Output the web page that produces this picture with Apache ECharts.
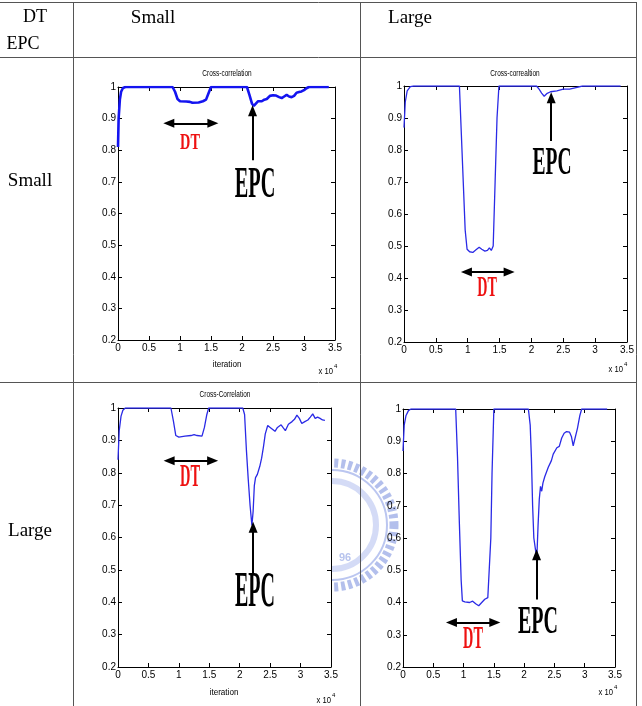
<!DOCTYPE html>
<html>
<head>
<meta charset="utf-8">
<script src="https://cdn.jsdelivr.net/npm/echarts@6/dist/echarts.min.js"></script>
<style>
html, body { margin: 0; padding: 0; background: #fff; }
#main { width: 642px; height: 706px; }
</style>
</head>
<body>
<div id="main"></div>
<script>
// iteration (x 10^4) against cross-correlation, one list per table cell
var xTicks = [0, 0.5, 1, 1.5, 2, 2.5, 3, 3.5];
var yTicks = [0.2, 0.3, 0.4, 0.5, 0.6, 0.7, 0.8, 0.9, 1];

// DT small / EPC small
var dtSmallEpcSmall = [[0,0.81],[0.01,0.9],[0.03,0.96],[0.05,0.985],[0.08,0.997],[0.12,1],[0.88,1],[0.92,0.985],
  [0.96,0.962],[1.0,0.955],[1.1,0.954],[1.16,0.953],[1.2,0.95],[1.3,0.951],[1.37,0.955],[1.42,0.96],[1.46,0.98],
  [1.5,1],[2.08,1],[2.12,0.975],[2.16,0.948],[2.19,0.94],[2.22,0.945],[2.26,0.955],[2.32,0.955],[2.36,0.96],
  [2.4,0.962],[2.45,0.972],[2.5,0.974],[2.55,0.973],[2.6,0.968],[2.64,0.965],[2.68,0.97],[2.72,0.975],[2.76,0.97],
  [2.8,0.968],[2.84,0.972],[2.88,0.982],[2.92,0.984],[2.96,0.986],[3.0,0.99],[3.04,0.996],[3.08,1],[3.4,1]];

// DT large / EPC small
var dtLargeEpcSmall = [[0,0.87],[0.02,0.95],[0.05,0.985],[0.1,0.998],[0.15,1],[0.87,1],[0.9,0.85],[0.93,0.7],
  [0.96,0.55],[0.99,0.49],[1.03,0.482],[1.08,0.48],[1.13,0.488],[1.18,0.496],[1.22,0.49],[1.27,0.484],[1.31,0.486],
  [1.34,0.494],[1.37,0.486],[1.4,0.5],[1.43,0.7],[1.46,0.9],[1.49,1],[2.08,1],[2.12,0.99],[2.16,0.978],[2.2,0.968],
  [2.24,0.976],[2.3,0.982],[2.4,0.985],[2.5,0.99],[2.6,0.99],[2.7,0.995],[2.8,1],[3.4,1]];

// DT small / EPC large
var dtSmallEpcLarge = [[0,0.84],[0.02,0.93],[0.05,0.975],[0.08,0.993],[0.12,1],[0.87,1],[0.91,0.96],[0.95,0.915],
  [1.0,0.91],[1.1,0.913],[1.2,0.915],[1.25,0.918],[1.3,0.915],[1.38,0.913],[1.42,0.94],[1.46,0.98],[1.49,1],[2.05,1],
  [2.08,0.98],[2.11,0.87],[2.14,0.78],[2.17,0.7],[2.2,0.637],[2.22,0.68],[2.24,0.76],[2.26,0.785],[2.29,0.795],
  [2.33,0.82],[2.36,0.845],[2.39,0.88],[2.42,0.92],[2.46,0.946],[2.5,0.94],[2.53,0.936],[2.58,0.928],[2.62,0.94],
  [2.68,0.948],[2.71,0.94],[2.75,0.93],[2.8,0.95],[2.86,0.958],[2.9,0.965],[2.94,0.978],[2.98,0.968],[3.02,0.952],
  [3.07,0.958],[3.12,0.963],[3.16,0.972],[3.2,0.982],[3.24,0.968],[3.28,0.972],[3.32,0.968],[3.36,0.963],[3.4,0.962]];

// DT large / EPC large
var dtLargeEpcLarge = [[0,0.87],[0.02,0.95],[0.05,0.98],[0.09,0.995],[0.13,1],[0.87,1],[0.9,0.85],[0.93,0.65],
  [0.96,0.47],[0.98,0.405],[1.02,0.402],[1.05,0.406],[1.1,0.4],[1.15,0.404],[1.2,0.396],[1.25,0.39],[1.3,0.4],
  [1.35,0.41],[1.4,0.415],[1.43,0.418],[1.45,0.6],[1.47,0.8],[1.5,1],[2.07,1],[2.1,0.95],[2.12,0.85],[2.14,0.7],
  [2.16,0.6],[2.19,0.56],[2.21,0.54],[2.23,0.64],[2.25,0.72],[2.27,0.76],[2.29,0.745],[2.31,0.77],[2.34,0.79],
  [2.4,0.82],[2.45,0.84],[2.48,0.86],[2.54,0.88],[2.58,0.884],[2.62,0.91],[2.66,0.925],[2.7,0.93],[2.75,0.928],
  [2.78,0.915],[2.81,0.886],[2.84,0.89],[2.88,0.94],[2.92,0.98],[2.95,1],[3.37,1]];

var chart = echarts.init(document.getElementById('main'));

var grids = [
  { left: 118, top: 87, width: 217, height: 253 },
  { left: 404, top: 86, width: 223, height: 256 },
  { left: 118, top: 408, width: 213, height: 259 },
  { left: 403, top: 409, width: 212, height: 258 }
];
grids.forEach(function (g) {
  g.show = true; g.backgroundColor = '#fff'; g.borderWidth = 0;
});

var tickFont = "'Liberation Sans Narrow', 'Liberation Sans', Arial, sans-serif";
var lineBlack = { color: '#000', width: 1 };

var xAxes = [], yAxes = [];
grids.forEach(function (g, i) {
  ['bottom', 'top'].forEach(function (pos) {
    xAxes.push({
      type: 'value', gridIndex: i, position: pos,
      min: xTicks[0], max: xTicks[xTicks.length - 1],
      axisLine: { onZero: false, lineStyle: lineBlack },
      axisTick: { inside: true, length: 4, lineStyle: lineBlack, customValues: xTicks },
      axisLabel: { show: pos === 'bottom', customValues: xTicks, color: '#000', fontSize: 10, margin: 3, fontFamily: tickFont },
      splitLine: { show: false }
    });
  });
  ['left', 'right'].forEach(function (pos) {
    yAxes.push({
      type: 'value', gridIndex: i, position: pos,
      min: yTicks[0], max: yTicks[yTicks.length - 1],
      axisLine: { onZero: false, lineStyle: lineBlack },
      axisTick: { inside: true, length: 4, lineStyle: lineBlack, customValues: yTicks },
      axisLabel: { show: pos === 'left', customValues: yTicks, color: '#000', fontSize: 10, margin: 2, fontFamily: tickFont },
      splitLine: { show: false }
    });
  });
});

// arrows for the DT span and EPC point, in data coordinates
function arrows(dt, epc, w) {
  return {
    silent: true,
    label: { show: false },
    lineStyle: { color: '#000', width: w, type: 'solid' },
    symbolSize: [9, 11],
    data: [
      [{ coord: [dt[0], dt[2]], symbol: 'triangle' }, { coord: [dt[1], dt[2]], symbol: 'triangle' }],
      [{ coord: [epc[0], epc[1]], symbol: 'none' }, { coord: [epc[0], epc[2]], symbol: 'triangle' }]
    ]
  };
}

function lineSeries(i, data, width, color, dt, epc) {
  return {
    type: 'line', xAxisIndex: i * 2, yAxisIndex: i * 2,
    data: data, showSymbol: false, smooth: false,
    lineStyle: { color: color, width: width },
    markLine: arrows(dt, epc, 2)
  };
}

var serif = "'Liberation Serif', 'Times New Roman', serif";
var sans = "'Liberation Sans', Arial, sans-serif";

function txt(x, y, s, size, opts) {
  opts = opts || {};
  return {
    type: 'text', x: x, y: y, scaleX: opts.sx || 1, silent: true,
    style: {
      text: s, x: 0, y: 0, fill: opts.color || '#000',
      font: (opts.weight || 'normal') + ' ' + size + 'px ' + (opts.family || sans),
      align: opts.align || 'center', verticalAlign: 'middle'
    }
  };
}

function rule(x1, y1, x2, y2) {
  return { type: 'line', silent: true, shape: { x1: x1, y1: y1, x2: x2, y2: y2 }, style: { stroke: '#555', lineWidth: 1 } };
}

function power(x, y) {
  return [
    txt(x, y, 'x 10', 9, { align: 'right', sx: 0.85 }),
    txt(x + 1, y - 6, '4', 6, { align: 'left' })
  ];
}

// faint university seal printed behind the lower plots
var seal = [
  { type: 'circle', z: -10, silent: true, shape: { cx: 332, cy: 525, r: 62 },
    style: { fill: 'none', stroke: '#9aaae6', lineWidth: 9, lineDash: [4, 3], opacity: 0.75 } },
  { type: 'circle', z: -10, silent: true, shape: { cx: 332, cy: 525, r: 55 },
    style: { fill: 'none', stroke: '#aab8ec', lineWidth: 2, opacity: 0.8 } },
  { type: 'circle', z: -10, silent: true, shape: { cx: 332, cy: 525, r: 44 },
    style: { fill: 'none', stroke: '#c2ccf2', lineWidth: 6, opacity: 0.7 } },
  { type: 'text', z: -10, silent: true, x: 345, y: 558,
    style: { text: '96', fill: '#b8c4ee', font: 'bold 11px ' + sans, align: 'center', verticalAlign: 'middle' } }
];

var graphics = seal.concat([
  rule(0, 2.5, 637, 2.5), rule(0, 57.5, 637, 57.5), rule(0, 382.5, 637, 382.5),
  rule(73.5, 2.5, 73.5, 706), rule(360.5, 2.5, 360.5, 706), rule(636.5, 2.5, 636.5, 706),
  txt(35, 17, 'DT', 18, { family: serif }),
  txt(23, 44, 'EPC', 18, { family: serif }),
  txt(153, 18, 'Small', 19, { family: serif }),
  txt(410, 18, 'Large', 19, { family: serif }),
  txt(30, 181, 'Small', 19, { family: serif }),
  txt(30, 531, 'Large', 19, { family: serif }),
  txt(227, 74, 'Cross-correlation', 9, { sx: 0.72 }),
  txt(515, 74, 'Cross-correaltion', 9, { sx: 0.72 }),
  txt(225, 395, 'Cross-Correlation', 9, { sx: 0.72 }),
  txt(227, 365, 'iteration', 9, { sx: 0.9 }),
  txt(224, 693, 'iteration', 9, { sx: 0.9 }),
  // DT labels (red) and EPC labels
  txt(190, 143, 'DT', 23, { family: serif, weight: 'bold', color: '#ee1111', sx: 0.62 }),
  txt(487, 288, 'DT', 30, { family: serif, weight: 'bold', color: '#ee1111', sx: 0.47 }),
  txt(190, 478, 'DT', 32, { family: serif, weight: 'bold', color: '#ee1111', sx: 0.45 }),
  txt(473, 640, 'DT', 31, { family: serif, weight: 'bold', color: '#ee1111', sx: 0.46 }),
  txt(255, 185, 'EPC', 45, { family: serif, weight: 'bold', sx: 0.45 }),
  txt(552, 164, 'EPC', 39, { family: serif, weight: 'bold', sx: 0.5 }),
  txt(255, 593, 'EPC', 50, { family: serif, weight: 'bold', sx: 0.4 }),
  txt(538, 623, 'EPC', 40, { family: serif, weight: 'bold', sx: 0.5 })
]).concat(power(333, 372), power(623, 370), power(331, 701), power(613, 693));

chart.setOption({
  animation: false,
  grid: grids,
  xAxis: xAxes,
  yAxis: yAxes,
  series: [
    lineSeries(0, dtSmallEpcSmall, 2.6, '#1414f0', [0.82, 1.53, 0.885], [2.17, 0.768, 0.925]),
    lineSeries(1, dtLargeEpcSmall, 1.3, '#2a2ae6', [0.98, 1.65, 0.419], [2.31, 0.828, 0.963]),
    lineSeries(2, dtSmallEpcLarge, 1.3, '#2a2ae6', [0.84, 1.555, 0.837], [2.22, 0.49, 0.632]),
    lineSeries(3, dtLargeEpcLarge, 1.3, '#2a2ae6', [0.80, 1.516, 0.338], [2.205, 0.409, 0.548])
  ],
  graphic: graphics
});
</script>
</body>
</html>
